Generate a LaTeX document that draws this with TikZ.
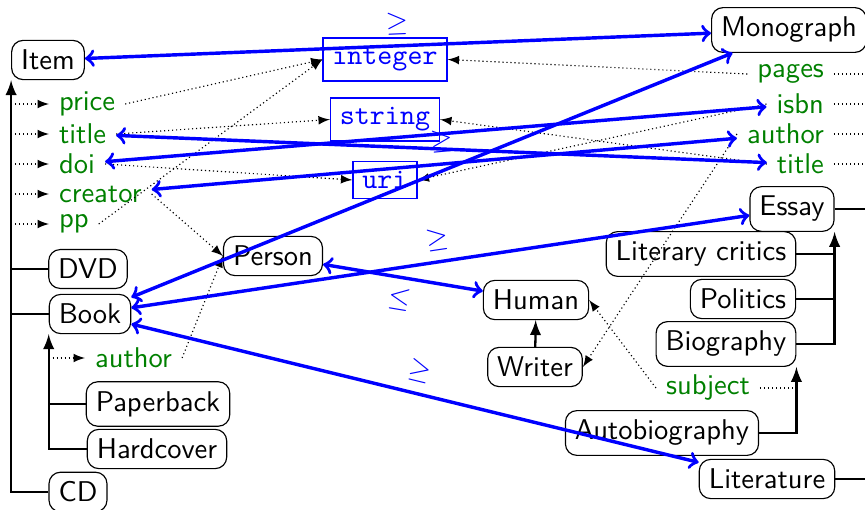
\documentclass[tikz,border=0pt]{standalone}
\usetikzlibrary{arrows}
\begin{document}
\begin{tikzpicture}[x=0.0123cm,y=-0.0123cm,font=\sffamily,
    cls/.style={draw,rounded corners},
    prop/.style={text=green!50!black},
    dtype/.style={draw=blue,text=blue,font=\ttfamily},
    isa/.style={thick,-latex},
    attr/.style={densely dotted,-latex},
    rel/.style={very thick,blue,<->}]
      \useasboundingbox (0,0) rectangle (865,510);
      \clip (0,0) rectangle (865,510);
      \draw
        (48,60) node[cls] (item){Item}
        (49,104) node[prop,anchor=west] (price){price}
        (49,134) node[prop,anchor=west] (titleL){title}
        (49,164) node[prop,anchor=west] (doi){doi}
        (49,194) node[prop,anchor=west] (creator){creator}
        (49,224) node[prop,anchor=west] (pp){pp}
        (88,269) node[cls] (dvd){DVD}
        (90,314) node[cls] (book){Book}
        (85,358) node[prop,anchor=west] (authorL){author}
        (158,404) node[cls] (paperback){Paperback}
        (157,449) node[cls] (hardcover){Hardcover}
        (78,492) node[cls] (cd){CD};
      \draw
        (385,59.5) node[dtype] (integer){integer}
        (385,119.5) node[dtype] (string){string}
        (385,180) node[dtype] (uri){uri}
        (273,256) node[cls] (person){Person}
        (536,300) node[cls] (human){Human}
        (535,367) node[cls] (writer){Writer};
      \draw
        (789,30) node[cls] (monograph){Monograph}
        (834,74) node[prop,anchor=east] (pages){pages}
        (834,104) node[prop,anchor=east] (isbn){isbn}
        (834,134) node[prop,anchor=east] (authorR){author}
        (834,164) node[prop,anchor=east] (titleR){title}
        (792,209) node[cls] (essay){Essay}
        (701,254) node[cls] (critics){Literary critics}
        (743,299) node[cls] (politics){Politics}
        (726,344) node[cls] (biography){Biography}
        (760,388) node[prop,anchor=east] (subject){subject}
        (662,433) node[cls] (autobio){Autobiography}
        (767,479) node[cls] (literature){Literature};
      \begin{scope}[isa]
        \draw (cd.west) -| (item.south west);
        \draw (hardcover.west) -| (book.south west);
        \draw (biography.east) -| (essay.south east);
        \draw (autobio.east) -| (biography.south east);
        \draw (writer) -- (human);
      \end{scope}
      \begin{scope}[thick]
        \draw (dvd.west) -- (dvd.west -| item.south west);
        \draw (book.west) -- (book.west -| item.south west);
        \draw (paperback.west) -- (paperback.west -| book.south west);
        \draw (critics.east) -- (critics.east -| essay.south east);
        \draw (politics.east) -- (politics.east -| essay.south east);
        \draw (essay.east) -- ++(40,0);
        \draw (literature.east) -- ++(40,0);
      \end{scope}
      \begin{scope}[attr]
        \draw (price.west -| item.south west) -- (price.west);
        \draw (titleL.west -| item.south west) -- (titleL.west);
        \draw (doi.west -| item.south west) -- (doi.west);
        \draw (creator.west -| item.south west) -- (creator.west);
        \draw (pp.west -| item.south west) -- (pp.west);
        \draw (authorL.west -| book.south west) -- (authorL.west);
        \draw (price.east) -- (integer.west);
        \draw (pp.east) -- (integer.west);
        \draw (titleL.east) -- (string.west);
        \draw (doi.east) -- (uri.west);
        \draw (creator.east) -- (person.west);
        \draw (authorL.east) -- (person.west);
        \draw (pages.west) -- (integer.east);
        \draw (isbn.west) -- (uri.east);
        \draw (titleR.west) -- (string.east);
        \draw (authorR.west) -- (writer.east);
        \draw (subject.west) -- (human.east);
      \end{scope}
      \begin{scope}[densely dotted]
        \draw (pages.east) -- ++(40,0);
        \draw (isbn.east) -- ++(40,0);
        \draw (authorR.east) -- ++(40,0);
        \draw (titleR.east) -- ++(40,0);
        \draw (subject.east) -- (subject.east -| biography.south east);
      \end{scope}
      \begin{scope}[rel]
        \draw (item) -- node[above,sloped]{$\geq$} (monograph);
        \draw (titleL) -- (titleR);
        \draw (doi) -- (isbn);
        \draw (creator) -- node[above,sloped]{$\geq$} (authorR);
        \draw (book) -- (monograph);
        \draw (book) -- node[above,sloped]{$\geq$} (essay);
        \draw (book) -- node[above,sloped]{$\geq$} (literature);
        \draw (person) -- node[below,sloped]{$\leq$} (human);
      \end{scope}
    \end{tikzpicture}
\end{document}
